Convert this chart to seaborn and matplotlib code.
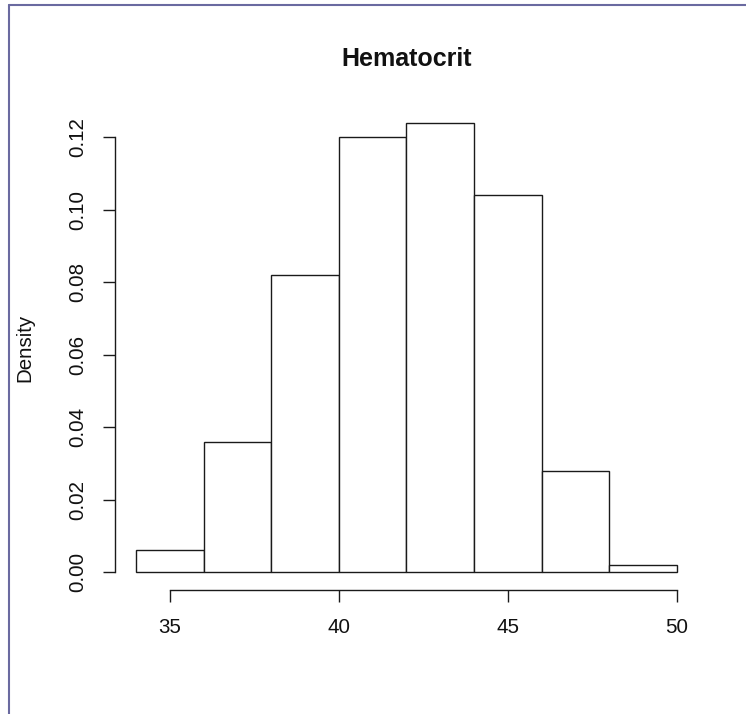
import matplotlib
matplotlib.use("Agg")
import matplotlib.pyplot as plt
from matplotlib.lines import Line2D
import seaborn as sns
import numpy as np

# Data (histogram of Hematocrit, density scale)
bin_edges = [34, 36, 38, 40, 42, 44, 46, 48, 50]
densities = [0.006, 0.036, 0.082, 0.120, 0.124, 0.104, 0.028, 0.002]
x_ticks = [35, 40, 45, 50]
y_ticks = [0.00, 0.02, 0.04, 0.06, 0.08, 0.10, 0.12]
title = "Hematocrit"
ylabel = "Density"

bin_centers = [(a + b) / 2 for a, b in zip(bin_edges[:-1], bin_edges[1:])]

sns.set_theme(style="white")
plt.rcParams["font.family"] = ["Liberation Sans", "DejaVu Sans"]

W, H = 746, 714
fig = plt.figure(figsize=(W / 100, H / 100), dpi=100)
fig.patch.set_facecolor("white")

left, right, top, bottom = 114.6, 698.3, 105.0, 590.0
ax = fig.add_axes([left / W, 1 - bottom / H, (right - left) / W, (bottom - top) / H])
ax.set_facecolor("white")

sns.histplot(x=bin_centers, weights=densities, bins=bin_edges, stat="count",
             color="white", edgecolor="#1a1a1a", linewidth=1.0, alpha=1.0, ax=ax)

ax.set_xlim(33.36, 50.64)
ax.set_ylim(-0.00496, 0.12896)
ax.set_xticks(x_ticks)
ax.set_yticks(y_ticks)
ax.set_xticklabels([str(v) for v in x_ticks])
ax.set_yticklabels([f"{v:.2f}" for v in y_ticks], rotation=90, va="center")
ax.set_xlabel("")
ax.set_ylabel("")

for s in ["top", "right"]:
    ax.spines[s].set_visible(False)
for s in ["left", "bottom"]:
    ax.spines[s].set_visible(True)
    ax.spines[s].set_color("#1a1a1a")
    ax.spines[s].set_linewidth(1.0)
ax.spines["bottom"].set_bounds(35, 50)
ax.spines["left"].set_bounds(0, 0.12)

ax.tick_params(axis="both", which="major", bottom=True, left=True, top=False, right=False,
               direction="out", length=8.3, width=1.0, color="#1a1a1a",
               labelsize=14.8, labelcolor="#111111")
ax.tick_params(axis="x", pad=12)
ax.tick_params(axis="y", pad=11.5)
ax.grid(False)

fig.text(406.5 / W, 1 - 65.7 / H, title, ha="center", va="baseline",
         fontsize=18, fontweight="bold", color="#111111")
fig.text(25 / W, 1 - 348 / H, ylabel, ha="center", va="center", rotation=90,
         fontsize=14.8, color="#111111")

# Outer frame (left and top edges visible)
fig.add_artist(Line2D([9 / W, 9 / W], [1 - 5.3 / H, -0.01], transform=fig.transFigure,
                      color="#6a6aa0", linewidth=1.5))
fig.add_artist(Line2D([9 / W, 1.01], [1 - 5.3 / H, 1 - 5.3 / H], transform=fig.transFigure,
                      color="#6a6aa0", linewidth=1.5))

fig.savefig("out.png", dpi=100, facecolor="white")
